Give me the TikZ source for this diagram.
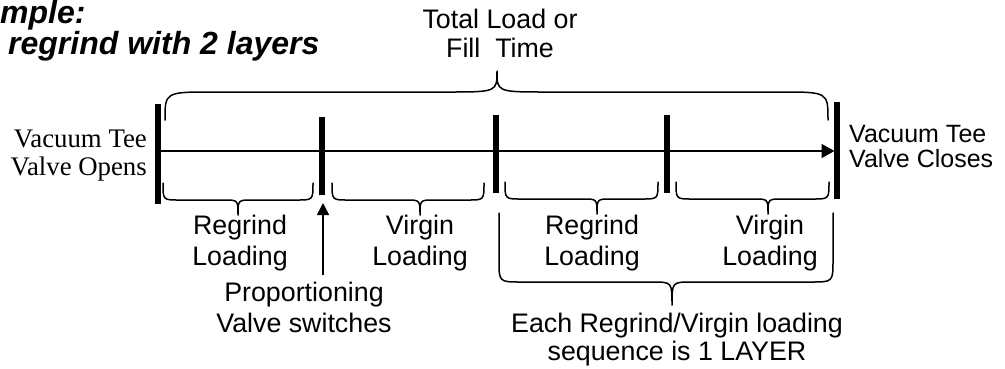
\documentclass[tikz,border=0pt]{standalone}
\usepackage{fontspec}
\setmainfont{Liberation Sans}
\newfontfamily\timesface{Liberation Serif}
\usetikzlibrary{arrows.meta}

% curly brace: x-left, x-right, x-tip, y-end, y-where-curve-starts, y-flat, y-tip, end radius, tip radius
\newcommand\curlybrace[9]{%
  \draw[bracestyle] (#1,#4) -- (#1,#5) .. controls (#1,#6) .. ({#1+#8},#6)
    -- ({#3-#9},#6) .. controls (#3,#6) .. (#3,#7)
    .. controls (#3,#6) .. ({#3+#9},#6)
    -- ({#2-#8},#6) .. controls (#2,#6) .. (#2,#5) -- (#2,#4);}

\begin{document}
\begin{tikzpicture}[x=1pt,y=-1pt,
  bar/.style={line width=5.5pt},
  axisline/.style={line width=1.6pt,-{Triangle[length=13pt,width=14pt]}},
  pointer/.style={line width=1.6pt,-{Triangle[length=12pt,width=12pt]}},
  bracestyle/.style={line width=1.5pt,line cap=round,line join=round},
  lbl/.style={inner sep=0pt,align=center,font=\fontsize{26.8}{31}\selectfont},
  title/.style={inner sep=0pt,align=left,font=\fontsize{32}{28}\selectfont\bfseries\itshape}]
\useasboundingbox (0,0) rectangle (1005,368);

% timeline bars
\coordinate (b0) at (158,151);
\coordinate (b4) at (837,151);
\draw[bar] (158,104) -- (158,204);
\draw[bar] (322,117) -- (322,195);
\draw[bar] (496,115) -- (496,193);
\draw[bar] (667,115) -- (667,193);
\draw[bar] (837,102) -- (837,199);
\draw[axisline, shorten >=2.5pt] (b0) -- (b4);

% braces
\curlybrace{165}{828}{497}{120}{120}{92}{71}{48}{50}
\curlybrace{163}{313}{238}{183}{183}{200}{215}{16}{14}
\curlybrace{332}{484}{420}{183}{183}{200}{215}{16}{14}
\curlybrace{505}{658}{597}{182}{182}{199}{214}{16}{14}
\curlybrace{676}{829}{768}{182}{182}{199}{214}{16}{14}
\curlybrace{499}{833}{672}{213}{260}{282}{305}{22}{20}

% labels
\node[title, anchor=north west] (title) at (0,0.5) {mple:\\\hspace*{8pt}regrind with 2 layers};
\node[lbl, anchor=north, font=\fontsize{26.8}{29}\selectfont] (total) at (500,9) {Total Load or\\Fill\ \ Time};
\node[inner sep=0pt, align=right, anchor=north east,
      font=\timesface\fontsize{26.8}{28}\selectfont] (open) at (147,130) {Vacuum Tee\\Valve Opens};
\node[lbl, align=left, anchor=north west,
      font=\fontsize{25}{25.5}\selectfont] (close) at (849,125) {Vacuum Tee\\Valve Closes};
\node[lbl, anchor=north] (rg1) at (240,215) {Regrind\\Loading};
\node[lbl, anchor=north] (vg1) at (420,215) {Virgin\\Loading};
\node[lbl, anchor=north] (rg2) at (592,215) {Regrind\\Loading};
\node[lbl, anchor=north] (vg2) at (770,215) {Virgin\\Loading};
\node[lbl, anchor=north, font=\fontsize{26.8}{31.5}\selectfont] (prop) at (304,281.5) {Proportioning\\Valve switches};
\node[lbl, anchor=north, font=\fontsize{26.8}{28}\selectfont] (layer) at (677,313) {Each Regrind/Virgin loading\\sequence is 1 LAYER};

% switching arrow
\coordinate (pfoot) at (323,275);
\coordinate (b1low) at (323,203);
\draw[pointer] (pfoot) -- (b1low);
\end{tikzpicture}
\end{document}
